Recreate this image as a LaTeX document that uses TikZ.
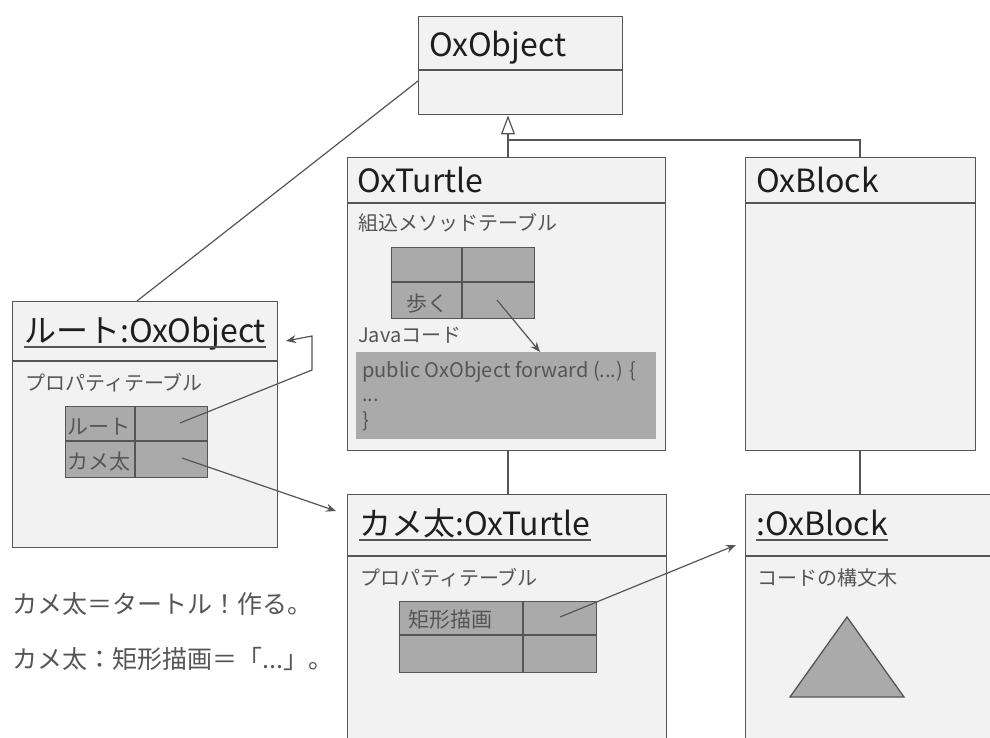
\documentclass[tikz,border=0pt]{standalone}
\usepackage{fontspec}
\setmainfont{Noto Sans CJK JP}
\usetikzlibrary{arrows.meta}

\definecolor{boxfill}{HTML}{F2F2F2}
\definecolor{edge}{HTML}{555555}
\definecolor{cellfill}{HTML}{AAAAAA}
\definecolor{labelgray}{HTML}{555555}
\definecolor{titleink}{HTML}{1E1E1E}

\newcommand\titlesize{\fontsize{32}{36}\selectfont}
\newcommand\labelsize{\fontsize{20}{23}\selectfont}
\newcommand\codesize{\fontsize{20}{23}\selectfont}
\newcommand\cellsize{\fontsize{21}{24}\selectfont}
\newcommand\notesize{\fontsize{25}{28}\selectfont}

\begin{document}
\begin{tikzpicture}[x=1pt,y=-1pt,
  umlbox/.style={draw=edge,line width=1.4pt,fill=boxfill,anchor=north west,inner sep=0pt},
  cellgrid/.style={draw=edge,line width=1.3pt,fill=cellfill,anchor=north west,inner sep=0pt},
  title/.style={anchor=base west,inner sep=0pt,text=titleink,font=\titlesize},
  lbl/.style={anchor=base west,inner sep=0pt,text=labelgray,font=\labelsize},
  wire/.style={draw=edge,line width=1.2pt},
  ptr/.style={wire,-{Stealth[length=10pt,width=8pt]}},
  isa/.style={wire,-{Triangle[open,length=19pt,width=14pt]}}]

\useasboundingbox (0,0) rectangle (990,738);
\clip (0,0) rectangle (990,738);
\fill[white] (0,0) rectangle (990,738);

% ---- class boxes ----
\node[umlbox,minimum width=204pt,minimum height=98pt] (objcls) at (418,16) {};
\draw[wire] (418,70) -- (622,70);
\node[title] (objname) at (429,57) {OxObject};

\node[umlbox,minimum width=318pt,minimum height=293pt] (turtlecls) at (347,157) {};
\draw[wire] (347,203) -- (665,203);
\node[title] (turtlename) at (357,193) {OxTurtle};

\node[umlbox,minimum width=230pt,minimum height=293pt] (blockcls) at (745,157) {};
\draw[wire] (745,203) -- (975,203);
\node[title] (blockname) at (756,193) {OxBlock};

% ---- inheritance ----
\coordinate (fork) at (508,140);
\coordinate (forkr) at (860,140);
\draw[wire] (fork) -- (forkr) -- (forkr |- blockcls.north);
\draw[isa] (fork |- turtlecls.north) -- (fork |- objcls.south);

% ---- built-in method table ----
\node[lbl] (methodlbl) at (358,230) {組込メソッドテーブル};
\node[cellgrid,minimum width=143pt,minimum height=71pt] (methods) at (391,247) {};
\draw[wire] (462,247) -- (462,318);
\draw[wire] (391,282) -- (534,282);
\node[anchor=base,inner sep=0pt,text=labelgray,font=\cellsize] (walk) at (427,311) {歩く};
\coordinate (walkref) at (497,300);

\node[lbl] (javalbl) at (358,342) {Javaコード};
\node[anchor=north west,fill=cellfill,minimum width=300pt,minimum height=87pt,inner sep=0pt] (code) at (356,352) {};
\node[anchor=base west,inner sep=0pt,text=labelgray,font=\codesize] (code1) at (362,377) {public OxObject forward (...) \{};
\node[anchor=base west,inner sep=0pt,text=labelgray,font=\codesize] (code2) at (362,401) {...};
\node[anchor=base west,inner sep=0pt,text=labelgray,font=\codesize] (code3) at (362,427) {\}};
\draw[ptr] (walkref) -- (540,352);

% ---- root object ----
\node[umlbox,minimum width=265pt,minimum height=246pt] (root) at (12,301) {};
\draw[wire] (12,361) -- (277,361);
\node[title] (rootname) at (24,342) {ルート:OxObject};
\draw[wire] ([yshift=-5pt]rootname.base west) -- ([yshift=-5pt]rootname.base east);
\node[lbl] (rootprops) at (25,390) {プロパティテーブル};
\node[cellgrid,minimum width=142pt,minimum height=71pt] (roottab) at (65,406) {};
\draw[wire] (135,406) -- (135,477);
\draw[wire] (65,441) -- (207,441);
\node[anchor=base west,inner sep=0pt,text=labelgray,font=\cellsize] (rootkey) at (67,434) {ルート};
\node[anchor=base west,inner sep=0pt,text=labelgray,font=\cellsize] (kamekey) at (67,469) {カメ太};
\coordinate (rootref) at (180,423);
\coordinate (kameref) at (182,458);

\draw[wire] (objcls.west |- 0,81) -- (137,301);

% ---- instance of OxTurtle ----
\node[umlbox,minimum width=319pt,minimum height=300pt] (kameta) at (347,494) {};
\draw[wire] (347,556) -- (666,556);
\node[title] (kametaname) at (359,535) {カメ太:OxTurtle};
\draw[wire] ([yshift=-5pt]kametaname.base west) -- ([yshift=-5pt]kametaname.base east);
\node[lbl] (kametaprops) at (360,585) {プロパティテーブル};
\node[cellgrid,minimum width=197pt,minimum height=71pt] (kametatab) at (399,601) {};
\draw[wire] (523,601) -- (523,672);
\draw[wire] (399,635) -- (596,635);
\node[anchor=base west,inner sep=0pt,text=labelgray,font=\cellsize] (rectkey) at (408,627) {矩形描画};
\coordinate (rectref) at (560,617);

% ---- instance of OxBlock ----
\node[umlbox,minimum width=300pt,minimum height=300pt] (blockobj) at (745,494) {};
\draw[wire] (745,556) -- (1000,556);
\node[title] (blockobjname) at (756,535) {:OxBlock};
\draw[wire] ([yshift=-5pt]blockobjname.base west) -- ([yshift=-5pt]blockobjname.base east);
\node[lbl] (treelbl) at (757,585) {コードの構文木};
\draw[edge,line width=1.3pt,fill=cellfill] (847,617) -- (904,697) -- (790,697) -- cycle;

% ---- class/instance links ----
\draw[wire] (508,450) -- (508,494);
\draw[wire] (860,450) -- (860,494);

% ---- property references ----
\draw[ptr] (rootref) -- (312,370) -- (312,336) -- (286,341);
\draw[ptr] (kameref) -- (336,511);
\draw[ptr] (rectref) -- (736,545);

% ---- source lines ----
\node[anchor=base west,inner sep=0pt,text=labelgray,font=\notesize] (line1) at (12,613) {カメ太＝タートル！作る。};
\node[anchor=base west,inner sep=0pt,text=labelgray,font=\notesize] (line2) at (12,668) {カメ太：矩形描画＝「...」。};
\end{tikzpicture}
\end{document}
